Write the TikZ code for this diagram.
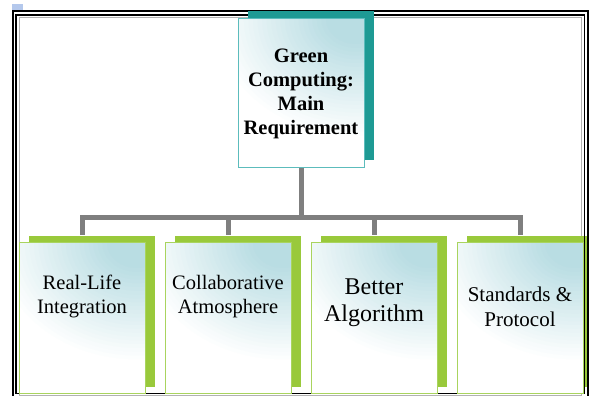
\documentclass[tikz,border=0pt]{standalone}
\usepackage{fontspec}
\setmainfont{Liberation Serif}
\usetikzlibrary{shadows}

\definecolor{gcgreen}{HTML}{99C93B}
\definecolor{gcgreenlt}{HTML}{A9D45E}
\definecolor{gcteal}{HTML}{1E9A94}
\definecolor{gctealLt}{HTML}{5CBCBC}
\definecolor{gcblue}{HTML}{B9DDE3}
\definecolor{gcgray}{HTML}{7F7F7F}
\definecolor{gcsquare}{HTML}{B4C8EC}

\begin{document}
\begin{tikzpicture}[x=1pt, y=1pt,
    glossy/.style={path picture={
        \fill[white] (path picture bounding box.south west) rectangle (path picture bounding box.north east);
        \foreach \k [evaluate=\k as \pct using int(\k*4), evaluate=\k as \rad using 120-\k*3.8] in {0,...,25}
            \fill[gcblue!\pct!white] ([xshift=-8pt]path picture bounding box.north east)
                ellipse [x radius=1.2*\rad pt, y radius=\rad pt];}},
    rootbox/.style={rectangle, glossy, draw=gctealLt, line width=1pt, inner sep=0pt,
        minimum width=126pt, minimum height=149pt, align=center,
        font=\bfseries\fontsize{20.5}{24}\selectfont,
        general shadow={draw=none, fill=gcteal, shadow xshift=10pt, shadow yshift=8pt}},
    childbox/.style={rectangle, glossy, draw=gcgreenlt, line width=1pt, inner sep=0pt,
        minimum width=126pt, minimum height=151pt,
        general shadow={draw=none, fill=gcgreen, shadow xshift=10pt, shadow yshift=7pt}},
    childtext/.style={align=center, inner sep=0pt, font=\fontsize{20.5}{24}\selectfont},
    level distance=225pt, sibling distance=146pt,
    edge from parent/.style={draw=gcgray, line width=5pt},
    edge from parent path={(\tikzparentnode.south) -- ++(0,-48.7pt) -| ([yshift=7pt]\tikzchildnode.north)}]
    \useasboundingbox (0,0) rectangle (589,396);

    % Frame
    \fill[gcsquare] (12,386) rectangle (23,392);
    \draw[black, line width=2pt] (13.2,385) rectangle (588,-3);
    \draw[black, line width=1.8pt] (16,381) rectangle (584.5,2.5);
    \draw[gray!60, line width=1pt] (19,378.5) rectangle (581.7,0.5);

    % Tree structure
    \node[rootbox] (req) at (301,302.5) {Green\\Computing:\\Main\\Requirement}
        child { node[childbox] (rli) {} }
        child { node[childbox] (col) {} }
        child { node[childbox] (alg) {} }
        child { node[childbox] (std) {} };

    % Labels
    \node[childtext] (rlitext) at ([yshift=-54pt]rli.north) {Real-Life\\Integration};
    \node[childtext] (coltext) at ([yshift=-54pt]col.north) {Collaborative\\Atmosphere};
    \node[childtext, font=\fontsize{24}{27}\selectfont] (algtext) at ([yshift=-60pt]alg.north) {Better\\Algorithm};
    \node[childtext, font=\fontsize{21}{25}\selectfont] (stdtext) at ([yshift=-64pt]std.north) {Standards \&\\Protocol};

    % right edge of the frame over the last shadow
    \draw[black, line width=2pt] (588,385) -- (588,-3);
    \draw[black, line width=1.8pt] (584.5,381) -- (584.5,2.5);
\end{tikzpicture}
\end{document}
